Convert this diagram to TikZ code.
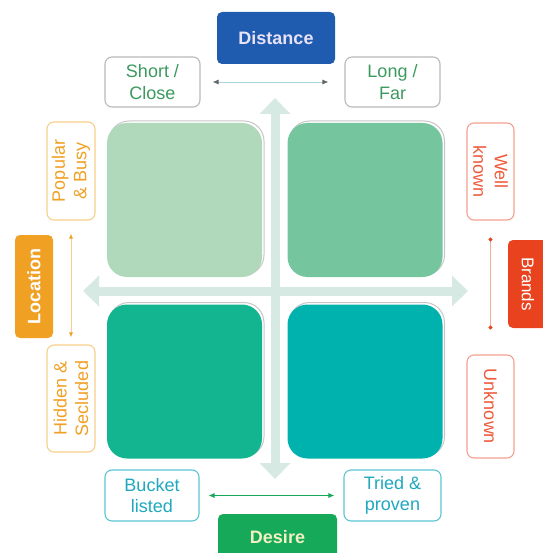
\documentclass[tikz,border=0pt]{standalone}
\usepackage{fontspec}
\setmainfont{Liberation Sans}
\usetikzlibrary{arrows.meta,positioning,calc}
\definecolor{DIST-BLUE}{RGB}{31, 92, 176}
\definecolor{DIST-TEXT}{RGB}{232, 226, 248}
\definecolor{DIST-LINE}{RGB}{168, 212, 224}
\definecolor{SHORT-TEXT}{RGB}{60, 154, 95}
\definecolor{DES-GREEN}{RGB}{22, 169, 90}
\definecolor{DES-TEXT}{RGB}{240, 240, 192}
\definecolor{DES-EDGE}{RGB}{92, 196, 214}
\definecolor{DES-LABEL}{RGB}{31, 168, 190}
\definecolor{LOC-ORANGE}{RGB}{240, 160, 35}
\definecolor{LOC-EDGE}{RGB}{248, 207, 138}
\definecolor{BRD-RED}{RGB}{232, 66, 30}
\definecolor{BRD-EDGE}{RGB}{245, 160, 144}
\definecolor{BRD-TEXT}{RGB}{238, 90, 60}
\definecolor{BRD-LINE}{RGB}{245, 170, 160}
\definecolor{CROSS}{RGB}{214, 233, 226}
\definecolor{Q-ONE}{RGB}{176, 216, 187}
\definecolor{Q-TWO}{RGB}{117, 198, 158}
\definecolor{Q-THREE}{RGB}{18, 181, 143}
\definecolor{Q-FOUR}{RGB}{0, 178, 174}
\tikzset{
  quad/.style={minimum width=155pt, minimum height=154pt, rounded corners=20pt, inner sep=0pt},
  pole/.style={rounded corners=5pt, inner sep=0pt, font=\fontsize{18}{22}\selectfont\bfseries},
  tag/.style={draw, line width=1.1pt, fill=white, rounded corners=7pt, inner sep=0pt, align=center,
    font=\fontsize{18}{21.5}\selectfont}
}

\begin{document}
\begin{tikzpicture}[x=1pt, y=-1pt]
  \useasboundingbox (0,0) rectangle (542,553);
  % Cross arrows
  \coordinate (ctop) at (275,98);
  \coordinate (cbot) at (275,479);
  \coordinate (cleft) at (83,291);
  \coordinate (cright) at (468,291);
  \draw[CROSS, line width=9pt, {Triangle[width=30pt,length=16pt]}-{Triangle[width=30pt,length=16pt]}] (ctop) -- (cbot);
  \draw[CROSS, line width=9pt, {Triangle[width=30pt,length=16pt]}-{Triangle[width=30pt,length=16pt]}] (cleft) -- (cright);

  % Quadrants with soft outline behind
  \foreach \cx/\cy/\col/\nm in {184.5/200/Q-ONE/qa, 365/200/Q-TWO/qb, 184.5/381.5/Q-THREE/qc, 365/381.5/Q-FOUR/qd} {
    \node[quad, draw=gray!45, line width=1pt, fill=white] at (\cx+2,\cy-2) {};
    \node[quad, fill=\col] (\nm) at (\cx,\cy) {};
  }

  % Distance (top)
  \node[pole, fill=DIST-BLUE, text=DIST-TEXT, minimum width=118pt, minimum height=52pt] (distance) at (276,38) {Distance};
  \node[tag, draw=gray!55, text=SHORT-TEXT, minimum width=95pt, minimum height=50pt] (short) at (152.5,82) {Short /\\Close};
  \node[tag, draw=gray!55, text=SHORT-TEXT, minimum width=95pt, minimum height=50pt] (long) at (392.5,82) {Long /\\Far};
  \draw[DIST-LINE, line width=0.8pt, {Latex[length=6pt,width=5pt,gray!80!black]}-{Latex[length=6pt,width=5pt,gray!80!black]}, shorten <=12pt, shorten >=16pt] (short) -- (long);

  % Desire (bottom)
  \node[pole, fill=DES-GREEN, text=DES-TEXT, minimum width=119pt, minimum height=46pt] (desire) at (277.5,537) {Desire};
  \node[tag, draw=DES-EDGE, text=DES-LABEL, minimum width=94pt, minimum height=51pt] (bucket) at (152,495.5) {Bucket\\listed};
  \node[tag, draw=DES-EDGE, text=DES-LABEL, minimum width=97pt, minimum height=51pt] (tried) at (392.5,495.5) {Tried \&\\proven};
  \draw[DES-GREEN, line width=0.8pt, {Latex[length=6pt,width=5pt]}-{Latex[length=6pt,width=5pt]}, shorten <=9pt, shorten >=9pt] (bucket) -- (tried);

  % Location (left)
  \node[pole, fill=LOC-ORANGE, text=white, rotate=90, minimum width=103pt, minimum height=38pt] (location) at (34,286.5) {Location};
  \node[tag, draw=LOC-EDGE, text=LOC-ORANGE, rotate=90, minimum width=98pt, minimum height=48pt] (popular) at (71,171) {Popular\\\& Busy};
  \node[tag, draw=LOC-EDGE, text=LOC-ORANGE, rotate=90, minimum width=107pt, minimum height=48pt] (hidden) at (71,398.5) {Hidden \&\\Secluded};
  \draw[LOC-EDGE, line width=0.8pt, {Latex[length=5pt,width=4pt,LOC-ORANGE]}-{Latex[length=5pt,width=4pt,LOC-ORANGE]}, shorten <=13pt, shorten >=7pt] (popular) -- (hidden);

  % Brands (right)
  \node[pole, fill=BRD-RED, text=white, font=\fontsize{17}{20}\selectfont, rotate=-90, minimum width=88pt, minimum height=40pt] (brands) at (528,284) {Brands};
  \node[tag, draw=BRD-EDGE, text=BRD-TEXT, rotate=-90, minimum width=97pt, minimum height=47pt] (wellknown) at (490.5,171.5) {Well\\known};
  \node[tag, draw=BRD-EDGE, text=BRD-TEXT, rotate=-90, minimum width=103pt, minimum height=47pt] (unknown) at (490.5,406.5) {Unknown};
  \draw[BRD-LINE, line width=0.8pt, {Circle[length=4pt,BRD-RED]}-{Circle[length=4pt,BRD-RED]}, shorten <=17pt, shorten >=25pt] (wellknown) -- (unknown);
\end{tikzpicture}
\end{document}
